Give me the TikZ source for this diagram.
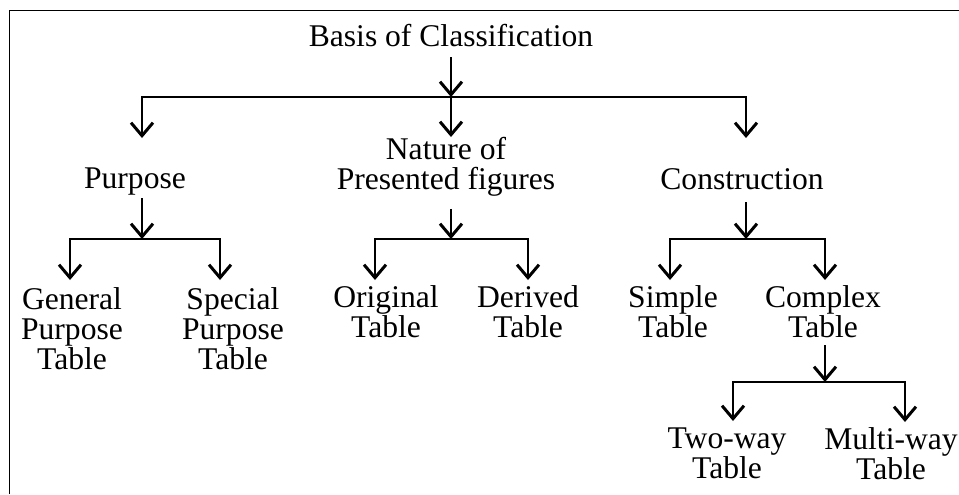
\documentclass[tikz,border=0pt]{standalone}
\usepackage{fontspec}
\setmainfont{Liberation Serif}
\usetikzlibrary{arrows.meta,calc}

\begin{document}
\begin{tikzpicture}[x=0.5pt,y=-0.5pt,
    arr/.style={line width=1.1pt,-{Straight Barb[length=6.5pt,width=11pt,line width=1.5pt]}},
    lbl/.style={anchor=north,inner sep=0pt,align=center,font=\fontsize{15.8}{15}\selectfont}]
      \useasboundingbox (0,0) rectangle (959,494);
      \draw[line width=0.5pt] (959,10) -- (9,10) -- (9,494);

      \node[lbl] (basis) at (451,24) {Basis of Classification};
      \node[lbl] (purpose) at (135,167) {Purpose};
      \node[lbl] (nature) at (446,137) {Nature of\\Presented figures};
      \node[lbl] (constr) at (742,168) {Construction};

      \node[lbl] (general) at (72,287) {General\\Purpose\\Table};
      \node[lbl] (special) at (233,287) {Special\\Purpose\\Table};
      \node[lbl] (original) at (386,285) {Original\\Table};
      \node[lbl] (derived) at (528,285) {Derived\\Table};
      \node[lbl] (simple) at (673,285) {Simple\\Table};
      \node[lbl] (complex) at (823,285) {Complex\\Table};
      \node[lbl] (twoway) at (727,427) {Two-way\\Table};
      \node[lbl] (multiway) at (891,427) {Multi-way\\Table};

      \coordinate (fork1) at (451,97);
      \coordinate (fork2) at (142,239);
      \coordinate (fork3) at (451,239);
      \coordinate (fork4) at (746,239);
      \coordinate (fork5) at (825,382);

      % first level
      \draw[arr,shorten <=5pt] (basis) -- (fork1);
      \draw[arr,shorten >=14.5pt] (fork1) -| ($(purpose.north)+(7,0)$);
      \draw[arr] (fork1) -- (nature.north -| fork1);
      \draw[arr,shorten >=15pt] (fork1) -| ($(constr.north)+(4,0)$);

      % second level
      \draw[arr,shorten <=1.5pt] (purpose.south -| fork2) -- (fork2);
      \draw[arr,shorten >=3.5pt] (fork2) -| ($(general.north)+(-2,0)$);
      \draw[arr,shorten >=3.5pt] (fork2) -| ($(special.north)+(-13,0)$);

      \draw[arr,shorten <=6pt] (nature.south -| fork3) -- (fork3);
      \draw[arr,shorten >=2.5pt] (fork3) -| ($(original.north)+(-11,0)$);
      \draw[arr,shorten >=2.5pt] (fork3) -| (derived.north);

      \draw[arr,shorten <=6pt] (constr.south -| fork4) -- (fork4);
      \draw[arr,shorten >=2.5pt] (fork4) -| ($(simple.north)+(-3,0)$);
      \draw[arr,shorten >=2.5pt] (fork4) -| ($(complex.north)+(2,0)$);

      % third level
      \draw[arr,shorten <=3.5pt] (complex.south -| fork5) -- (fork5);
      \draw[arr,shorten >=3pt] (fork5) -| ($(twoway.north)+(6,0)$);
      \draw[arr,shorten >=2.5pt] (fork5) -| ($(multiway.north)+(14,0)$);
   \end{tikzpicture}
\end{document}
